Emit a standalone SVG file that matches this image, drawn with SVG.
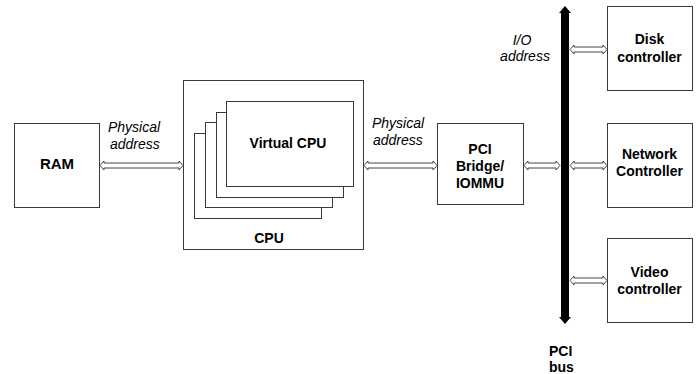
<svg xmlns="http://www.w3.org/2000/svg" width="696" height="374" viewBox="0 0 696 374">
<style>
.box{fill:#fff;stroke:#3a3a3a;stroke-width:1}
.lbl{font-family:"Liberation Sans",Arial,sans-serif;font-weight:bold;font-size:14px;fill:#000;text-anchor:middle}
.it{font-family:"Liberation Sans",Arial,sans-serif;font-style:italic;font-size:14px;fill:#000}
.arr{fill:#fff;stroke:#444;stroke-width:1;stroke-linejoin:miter}
</style>
<rect width="696" height="374" fill="#fff"/>
<g id="ram">
<rect class="box" x="14.5" y="123.5" width="85" height="84"/>
<text class="lbl" x="57" y="169" style="font-size:15px">RAM</text>
</g>
<g id="cpu">
<rect class="box" x="183.5" y="80.5" width="180" height="169"/>
<rect class="box" x="194.5" y="133.5" width="127" height="85"/>
<rect class="box" x="205.5" y="122.5" width="127" height="85"/>
<rect class="box" x="216.5" y="112.5" width="127" height="85"/>
<rect class="box" x="226.5" y="101.5" width="127" height="85"/>
<text class="lbl" x="288" y="148">Virtual CPU</text>
<text class="lbl" x="269" y="243">CPU</text>
</g>
<g id="pci-bridge">
<rect class="box" x="437.5" y="123.5" width="86" height="81"/>
<text class="lbl" x="480" y="154">PCI</text>
<text class="lbl" x="480" y="171">Bridge/</text>
<text class="lbl" x="480" y="188">IOMMU</text>
</g>
<g id="pci-bus">
<path d="M565,6 L571,13 L569,13 L569,317 L571,317 L565,324 L559,317 L561,317 L561,13 L559,13 Z" fill="#000"/>
<text class="lbl" x="549" y="356" style="text-anchor:start">PCI</text>
<text class="lbl" x="549" y="372" style="text-anchor:start">bus</text>
</g>
<g id="disk">
<rect class="box" x="607.5" y="6.5" width="85" height="84"/>
<text class="lbl" x="649.5" y="44">Disk</text>
<text class="lbl" x="649.5" y="62">controller</text>
</g>
<g id="network">
<rect class="box" x="607.5" y="123.5" width="85" height="84"/>
<text class="lbl" x="649.5" y="159">Network</text>
<text class="lbl" x="649.5" y="176">Controller</text>
</g>
<g id="video">
<rect class="box" x="607.5" y="238.5" width="85" height="84"/>
<text class="lbl" x="649.5" y="277">Video</text>
<text class="lbl" x="649.5" y="294">controller</text>
</g>
<g id="connectors">
<path class="arr" d="M100,165.5 L104,161 L104,163 L179,163 L179,161 L183,165.5 L179,170 L179,168 L104,168 L104,170 Z"/>
<path class="arr" d="M364,165.5 L368,161 L368,163 L433,163 L433,161 L437,165.5 L433,170 L433,168 L368,168 L368,170 Z"/>
<path class="arr" d="M524,165.5 L528,161 L528,163 L556,163 L556,161 L560,165.5 L556,170 L556,168 L528,168 L528,170 Z"/>
<path class="arr" d="M570,165.5 L574,161 L574,163 L603,163 L603,161 L607,165.5 L603,170 L603,168 L574,168 L574,170 Z"/>
<path class="arr" d="M570,49.5 L574,45 L574,47 L603,47 L603,45 L607,49.5 L603,54 L603,52 L574,52 L574,54 Z"/>
<path class="arr" d="M570,280.5 L574,276 L574,278 L603,278 L603,276 L607,280.5 L603,285 L603,283 L574,283 L574,285 Z"/>
</g>
<g id="labels">
<text class="it" x="108" y="132">Physical</text>
<text class="it" x="110" y="149">address</text>
<text class="it" x="372" y="128">Physical</text>
<text class="it" x="373" y="145">address</text>
<text class="it" x="522" y="45" text-anchor="middle">I/O</text>
<text class="it" x="525" y="61" text-anchor="middle">address</text>
</g>
</svg>
